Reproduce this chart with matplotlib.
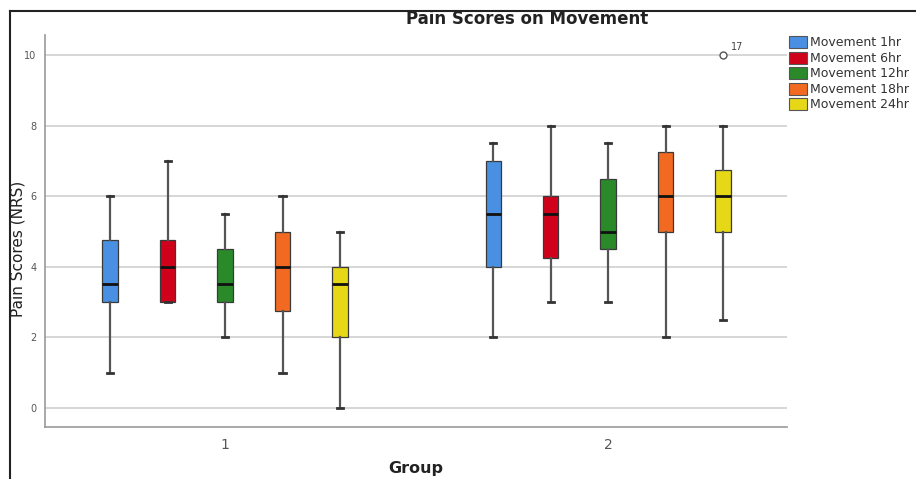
import matplotlib
matplotlib.use("Agg")
import matplotlib.pyplot as plt
from matplotlib.lines import Line2D
from matplotlib.patches import Patch

plt.rcParams['font.family'] = ['DejaVu Sans']

groups = ["1", "2"]
series = ["Movement 1hr", "Movement 6hr", "Movement 12hr", "Movement 18hr", "Movement 24hr"]
colors = ["#4a90e2", "#d0021b", "#2a8a2a", "#f26a21", "#e6d817"]

# per group: lists over series
whislo = [[1, 3, 2, 1, 0], [2, 3, 3, 2, 2.5]]
q1 = [[3, 3, 3, 2.75, 2], [4, 4.25, 4.5, 5, 5]]
med = [[3.5, 4, 3.5, 4, 3.5], [5.5, 5.5, 5, 6, 6]]
q3 = [[4.75, 4.75, 4.5, 5, 4], [7, 6, 6.5, 7.25, 6.75]]
whishi = [[6, 7, 5.5, 6, 5], [7.5, 8, 7.5, 8, 8]]
# outliers: (group index, series index, value, case label)
outliers = [(1, 4, 10, "17")]

offsets = [-0.3, -0.15, 0.0, 0.15, 0.3]

fig = plt.figure(figsize=(9.16, 4.79), dpi=100)
ax = fig.add_axes([45/916, 1-427/479, (787-45)/916, (427-35)/479])

for gi, g in enumerate(groups):
    for si in range(len(series)):
        fl = [v for (a, b, v, _) in outliers if a == gi and b == si]
        st = dict(med=med[gi][si], q1=q1[gi][si], q3=q3[gi][si],
                  whislo=whislo[gi][si], whishi=whishi[gi][si], fliers=fl)
        pos = gi + 1 + offsets[si]
        ax.bxp([st], positions=[pos], widths=0.04, capwidths=0.016,
               patch_artist=True, showfliers=True,
               boxprops=dict(facecolor=colors[si], edgecolor="#3a3a3a", linewidth=0.9),
               medianprops=dict(color="#111111", linewidth=2),
               whiskerprops=dict(color="#555555", linewidth=1.6),
               capprops=dict(color="#333333", linewidth=2),
               flierprops=dict(marker='o', markersize=5, markerfacecolor='white',
                               markeredgecolor='#555555', markeredgewidth=1))
for (gi, si, v, lab) in outliers:
    ax.annotate(lab, (gi + 1 + offsets[si], v), xytext=(6, 4), textcoords='offset points',
                fontsize=7, color='#444444')

ax.set_xlim(0.53, 2.467)
ax.set_ylim(-0.54, 10.57)
ax.set_yticks([0, 2, 4, 6, 8, 10])
ax.set_yticklabels(["0", "2", "4", "6", "8", "10"])
ax.set_xticks([1, 2])
ax.set_xticklabels(groups)
ax.yaxis.grid(True, color="#cfcfcf", linewidth=1.2)
ax.set_axisbelow(True)
ax.tick_params(axis='y', length=0, labelsize=7, colors='#555555', pad=6)
ax.tick_params(axis='x', length=0, labelsize=10, colors='#555555', pad=8)
for s in ['top', 'right']:
    ax.spines[s].set_visible(False)
for s in ['left', 'bottom']:
    ax.spines[s].set_color('#999999')
    ax.spines[s].set_linewidth(1.2)

fig.text(527/916, 1-19/479, "Pain Scores on Movement", ha='center', va='center',
         fontsize=12, fontweight='bold', color='#222222')
fig.text(18/916, 1-249/479, "Pain Scores (NRS)", ha='center', va='center',
         rotation=90, fontsize=11, color='#222222')
fig.text(416/916, 1-469/479, "Group", ha='center', va='center',
         fontsize=11.5, fontweight='bold', color='#222222')

# outer frame
fig.add_artist(Line2D([10/916, 10/916], [0, 1-11/479], transform=fig.transFigure,
                      color='#222222', linewidth=1.5))
fig.add_artist(Line2D([10/916, 1], [1-11/479, 1-11/479], transform=fig.transFigure,
                      color='#222222', linewidth=1.5))

handles = [Patch(facecolor=c, edgecolor='#555555', linewidth=0.8, label=l) for c, l in zip(colors, series)]
leg = fig.legend(handles=handles, loc='upper left', bbox_to_anchor=(789/916, 1-36/479),
                 frameon=False, fontsize=9, handlelength=1.4, handleheight=1.1,
                 handletextpad=0.25, labelspacing=0.18, borderaxespad=0, borderpad=0)
for t in leg.get_texts():
    t.set_color('#333333')

fig.savefig("out.png", dpi=100)
